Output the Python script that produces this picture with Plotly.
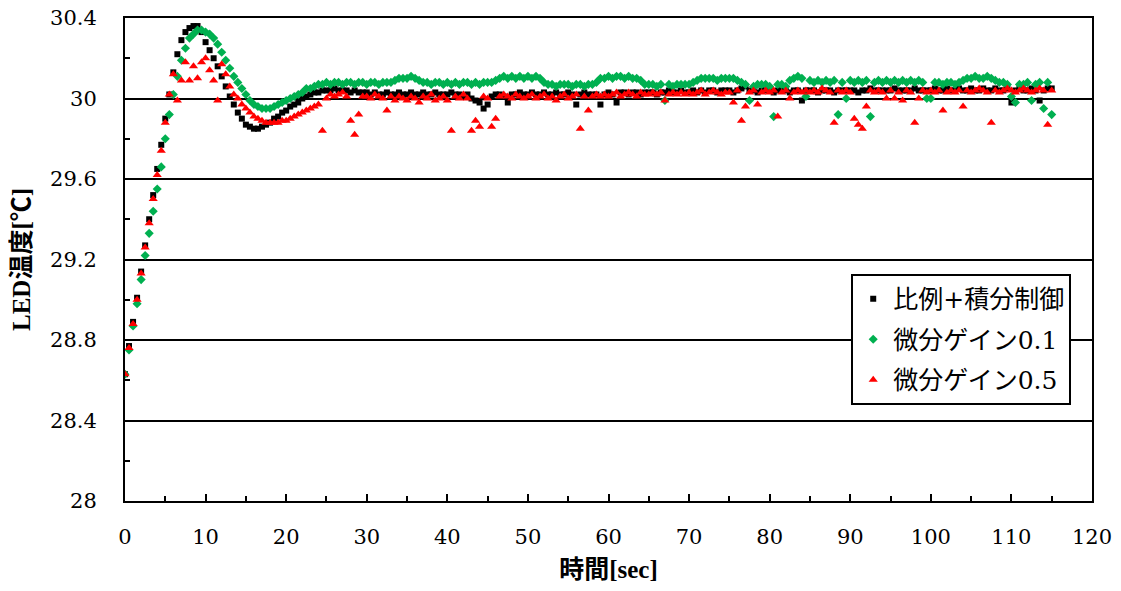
import numpy as np
import plotly.graph_objects as go

# sampling times [sec]
time_step = 0.5

# 比例+積分制御 (black)
pi_control = [
    28.63, 28.77, 28.89, 29.01, 29.14, 29.27, 29.40, 29.52, 29.65, 29.77,
    29.90, 30.02, 30.13, 30.22, 30.29, 30.33, 30.35, 30.36, 30.36, 30.33,
    30.28, 30.24, 30.20, 30.16, 30.11, 30.06, 30.01, 29.97, 29.93, 29.90,
    29.87, 29.86, 29.85, 29.85, 29.86, 29.87, 29.88, 29.90, 29.91, 29.93,
    29.94, 29.96, 29.97, 29.98, 30.00, 30.01, 30.02, 30.03, 30.03, 30.04,
    30.04, 30.04, 30.05, 30.04, 30.04, 30.04, 30.03, 30.04, 30.03, 30.03,
    30.03, 30.02, 30.03, 30.02, 30.02, 30.03, 30.02, 30.02, 30.03, 30.02,
    30.02, 30.03, 30.02, 30.02, 30.03, 30.02, 30.02, 30.03, 30.02, 30.02,
    30.02, 30.03, 30.02, 30.02, 30.01, 30.02, 30.00, 29.99, 29.98, 29.95,
    29.97, 30.01, 30.02, 30.02, 30.01, 29.98, 30.02, 30.02, 30.03, 30.02,
    30.02, 30.03, 30.02, 30.02, 30.03, 30.02, 30.02, 30.03, 30.02, 30.02,
    30.03, 30.02, 29.97, 30.02, 30.03, 30.02, 30.02, 30.02, 29.97, 30.02,
    30.03, 30.02, 29.98, 30.03, 30.03, 30.02, 30.03, 30.03, 30.02, 30.03,
    30.03, 30.03, 30.02, 30.03, 30.03, 30.04, 30.03, 30.03, 30.04, 30.03,
    30.03, 30.04, 30.03, 30.04, 30.03, 30.04, 30.04, 30.03, 30.04, 30.04,
    30.04, 30.03, 30.04, 30.05, 30.06, 30.04, 30.04, 30.03, 30.04, 30.04,
    30.04, 30.03, 30.04, 30.04, 30.04, 30.03, 30.04, 30.04, 29.99, 30.04,
    30.04, 30.04, 30.03, 30.04, 30.04, 30.04, 30.03, 30.04, 30.04, 30.04,
    30.04, 30.04, 30.03, 30.04, 30.04, 30.05, 30.04, 30.04, 30.04, 30.04,
    30.04, 30.05, 30.04, 30.04, 30.04, 30.04, 30.05, 30.04, 30.04, 30.04,
    30.04, 30.05, 30.04, 30.04, 30.05, 30.04, 30.04, 30.05, 30.04, 30.04,
    30.05, 30.04, 30.04, 30.05, 30.04, 30.04, 30.05, 30.04, 30.04, 30.05,
    29.98, 30.04, 30.05, 30.04, 30.04, 30.05, 30.04, 29.99, 30.04, 30.05,
    30.05,
]

# 微分ゲイン0.1 (green)
d_gain_01 = [
    28.63, 28.75, 28.87, 28.98, 29.10, 29.22, 29.33, 29.44, 29.55, 29.66,
    29.80, 29.92, 30.02, 30.11, 30.19, 30.25, 30.30, 30.32, 30.34, 30.34,
    30.33, 30.32, 30.30, 30.27, 30.23, 30.19, 30.15, 30.11, 30.08, 30.05,
    30.02, 29.99, 29.97, 29.96, 29.95, 29.95, 29.95, 29.96, 29.97, 29.98,
    29.99, 30.00, 30.01, 30.02, 30.03, 30.05, 30.05, 30.06, 30.07, 30.07,
    30.08, 30.07, 30.08, 30.08, 30.07, 30.08, 30.08, 30.07, 30.08, 30.08,
    30.07, 30.08, 30.08, 30.07, 30.08, 30.08, 30.08, 30.09, 30.10, 30.10,
    30.10, 30.11, 30.10, 30.09, 30.08, 30.08, 30.07, 30.08, 30.08, 30.07,
    30.08, 30.07, 30.08, 30.07, 30.08, 30.08, 30.07, 30.08, 30.07, 30.08,
    30.08, 30.08, 30.09, 30.10, 30.11, 30.10, 30.11, 30.10, 30.11, 30.10,
    30.11, 30.10, 30.11, 30.10, 30.08, 30.07, 30.07, 30.06, 30.07, 30.07,
    30.07, 30.06, 30.07, 30.07, 30.06, 30.07, 30.07, 30.08, 30.10, 30.10,
    30.11, 30.10, 30.11, 30.11, 30.10, 30.11, 30.10, 30.10, 30.09, 30.07,
    30.07, 30.07, 30.06, 30.07, 29.99, 30.07, 30.06, 30.07, 30.07, 30.07,
    30.07, 30.08, 30.09, 30.10, 30.10, 30.10, 30.10, 30.09, 30.10, 30.10,
    30.10, 30.10, 30.09, 30.08, 30.07, 29.99, 30.06, 30.07, 30.07, 30.07,
    30.06, 29.91, 30.07, 30.07, 30.06, 30.09, 30.10, 30.11, 30.10, 30.01,
    30.09, 30.08, 30.09, 30.08, 30.09, 30.08, 30.09, 29.92, 30.08, 30.00,
    30.09, 30.08, 30.09, 30.08, 30.09, 29.91, 30.08, 30.09, 30.08, 30.09,
    30.08, 30.09, 30.08, 30.09, 30.08, 30.09, 30.08, 30.09, 30.08, 30.00,
    30.00, 30.08, 30.08, 30.07, 30.08, 30.08, 30.07, 30.08, 30.09, 30.10,
    30.10, 30.11, 30.10, 30.10, 30.11, 30.10, 30.09, 30.08, 30.08, 30.07,
    30.01, 29.98, 30.07, 30.07, 30.08, 29.99, 30.07, 30.08, 29.95, 30.08,
    29.92,
]

# 微分ゲイン0.5 (red)
d_gain_05 = [
    28.63, 28.76, 28.88, 29.00, 29.13, 29.26, 29.38, 29.50, 29.62, 29.74,
    29.88, 30.02, 30.12, 29.99, 30.09, 30.18, 30.09, 30.16, 30.10, 30.18,
    30.20, 30.14, 30.09, 29.99, 30.17, 30.12, 30.06, 30.02, 30.00, 29.97,
    29.95, 29.93, 29.91, 29.90, 29.89, 29.88, 29.88, 29.88, 29.88, 29.89,
    29.89, 29.90, 29.91, 29.92, 29.93, 29.94, 29.95, 29.96, 29.97, 29.84,
    30.00, 30.02, 30.01, 30.02, 30.03, 30.01, 29.89, 29.82, 29.92, 30.01,
    30.01, 30.00, 30.02, 30.01, 30.00, 29.94, 30.01, 29.99, 30.01, 30.00,
    29.99, 30.01, 30.00, 29.98, 30.01, 30.00, 30.02, 29.99, 30.00, 30.01,
    29.99, 29.84, 30.01, 30.00, 30.02, 30.00, 29.84, 29.89, 29.86, 30.01,
    30.00, 29.86, 29.90, 30.01, 30.02, 30.01, 30.00, 30.02, 30.01, 30.00,
    30.01, 30.02, 30.00, 30.01, 30.02, 30.00, 30.01, 29.99, 30.01, 30.02,
    30.00, 30.01, 30.02, 29.85, 30.01, 29.94, 30.01, 30.02, 30.01, 30.02,
    30.01, 30.02, 30.03, 30.01, 30.02, 30.03, 30.02, 30.01, 30.03, 30.02,
    30.02, 30.03, 30.02, 30.03, 29.99, 30.02, 30.03, 30.02, 30.03, 30.02,
    30.03, 30.02, 30.03, 30.04, 30.02, 30.03, 30.04, 30.03, 30.02, 30.03,
    30.03, 29.98, 30.04, 29.89, 29.96, 30.03, 30.04, 29.97, 30.03, 30.04,
    30.03, 30.04, 29.91, 30.03, 30.04, 30.00, 30.03, 30.04, 30.03, 30.04,
    30.03, 30.04, 30.03, 30.05, 30.04, 30.03, 29.88, 30.04, 30.03, 30.04,
    30.03, 29.90, 29.87, 29.85, 29.96, 30.04, 30.03, 30.04, 30.03, 30.00,
    30.04, 30.00, 30.03, 29.99, 30.04, 30.03, 29.88, 30.00, 30.04, 30.03,
    30.04, 30.03, 30.04, 29.94, 30.03, 30.04, 30.03, 30.04, 29.96, 30.04,
    30.03, 30.04, 30.05, 30.04, 30.03, 29.88, 30.04, 30.03, 30.04, 30.05,
    30.04, 30.03, 30.04, 30.05, 30.04, 30.03, 30.04, 30.05, 30.04, 29.87,
    30.04,
]

series_names = ["比例+積分制御", "微分ゲイン0.1", "微分ゲイン0.5"]
x_title = "時間[sec]"
y_title = "LED温度[℃]"

time = np.arange(len(pi_control)) * time_step

SERIF = "DejaVu Serif, Noto Sans CJK JP"
TITLE_FONT = "Liberation Serif, Noto Sans CJK JP"

fig = go.Figure()
styles = [
    dict(color="#000000", symbol="square", size=6),
    dict(color="#00B050", symbol="diamond", size=7),
    dict(color="#FF0000", symbol="triangle-up", size=8),
]
for i, (name, vals, st) in enumerate(zip(series_names, [pi_control, d_gain_01, d_gain_05], styles)):
    fig.add_trace(go.Scatter(
        x=time, y=vals, mode="markers", name=name,
        legendgroup=f"g{i}",
        marker=dict(color=st["color"], symbol=st["symbol"], size=st["size"],
                    line=dict(width=0)),
    ))

axis_common = dict(
    showline=True, linecolor="black", linewidth=2, mirror=True,
    ticks="inside", tickcolor="black", tickwidth=2, ticklen=7,
    tickfont=dict(family=SERIF, size=21, color="black"),
    zeroline=False, automargin=False, ticklabeloverflow="allow",
)

# page body has an 8px margin: figure sized to fit the 1121x591 window
fig.update_layout(
    width=1105, height=575,
    margin=dict(l=117, r=21, t=10, b=82),
    paper_bgcolor="white", plot_bgcolor="white",
    showlegend=True,
    legend=dict(
        x=0.751, y=0.47, xanchor="left", yanchor="top",
        bgcolor="white", bordercolor="black", borderwidth=2,
        font=dict(family=SERIF, size=25, color="black"),
        tracegroupgap=5,
        itemwidth=30,
    ),
    xaxis=dict(
        range=[0, 120], tick0=0, dtick=10,
        showgrid=False,
        ticklabelstandoff=16,
        minor=dict(dtick=5, ticks="inside", ticklen=5, tickcolor="black", tickwidth=2, showgrid=False),
        title=dict(text=f"<b>{x_title}</b>", font=dict(family=TITLE_FONT, size=25, color="black"), standoff=13),
        **axis_common,
    ),
    yaxis=dict(
        range=[28, 30.4], tick0=28, dtick=0.4,
        showgrid=True, gridcolor="black", gridwidth=1.5,
        ticklabelstandoff=22,
        minor=dict(dtick=0.2, tick0=28, ticks="inside", ticklen=5, tickcolor="black", tickwidth=2, showgrid=False),
        title=dict(text=f"<b>{y_title}</b>", font=dict(family=TITLE_FONT, size=25, color="black"), standoff=12),
        **axis_common,
    ),
)

fig.write_html("out.html")
